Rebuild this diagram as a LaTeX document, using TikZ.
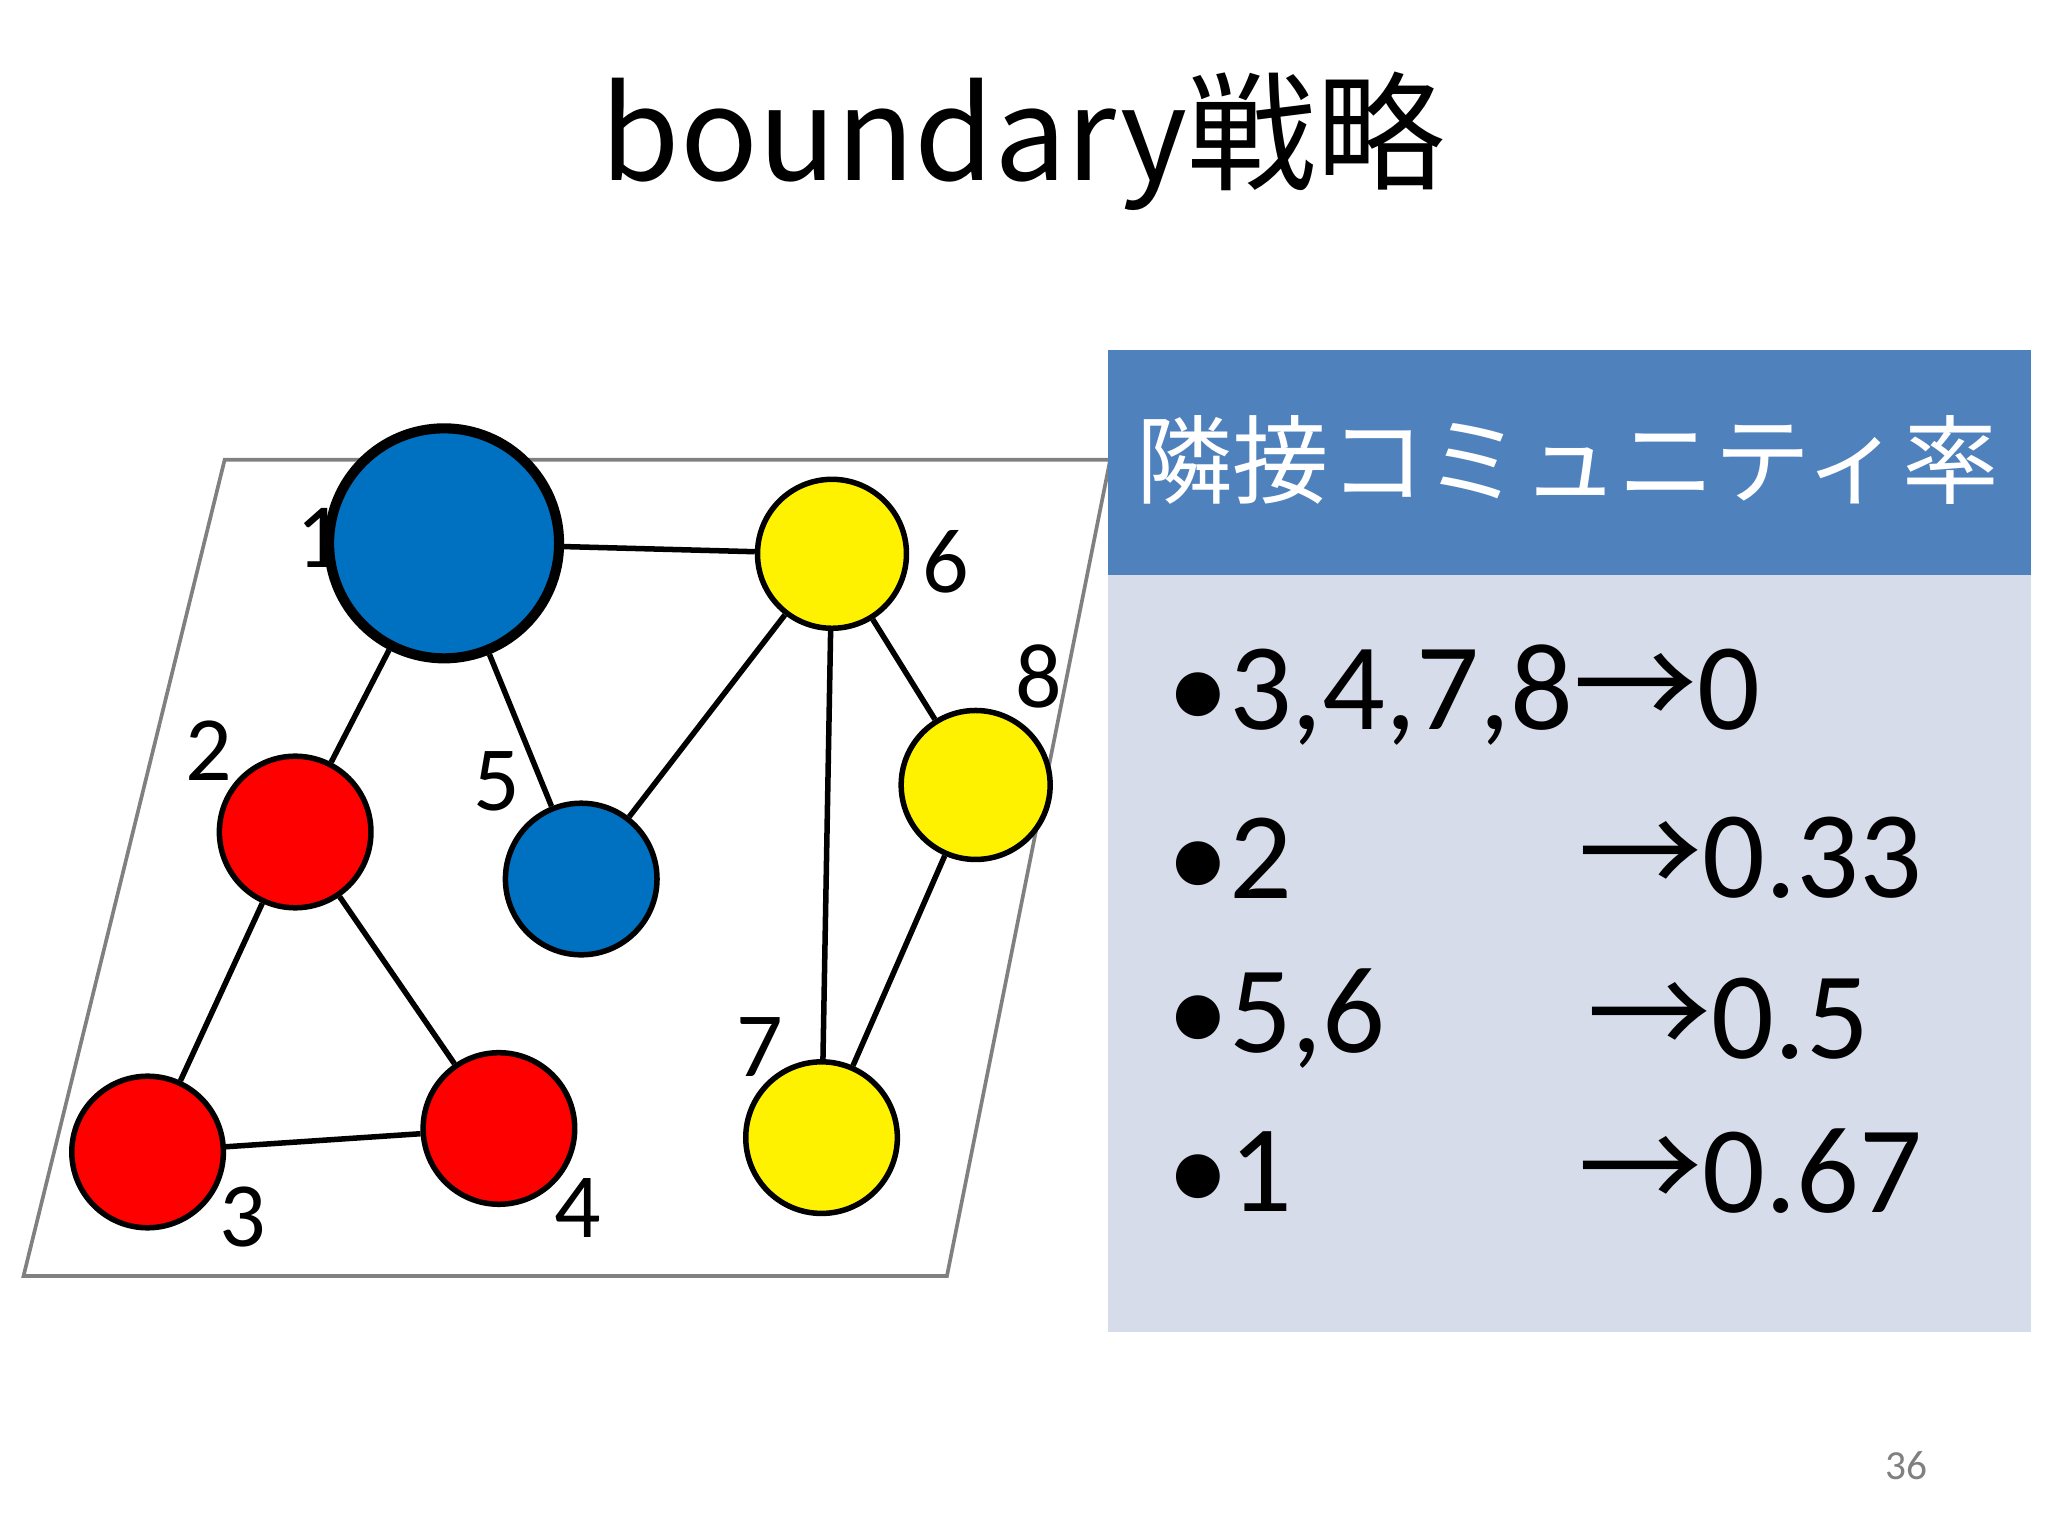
\documentclass[tikz,border=0pt]{standalone}
\usepackage{fontspec}
\setmainfont{Carlito}
\newfontfamily\cjk{Noto Sans CJK JP}
\definecolor{nblue}{HTML}{0070C0}
\definecolor{hdr}{HTML}{4F81BD}
\definecolor{bodyc}{HTML}{D6DCE9}
\begin{document}
\begin{tikzpicture}[x=0.01cm,y=-0.01cm,
 vtx/.style={circle,draw=black,line width=1.2pt,inner sep=0pt},
 lbl/.style={font=\fontsize{20}{20}\selectfont,inner sep=0pt},
 row/.style={font=\fontsize{27}{27}\selectfont,inner sep=0pt,anchor=west}]
\useasboundingbox (0,0) rectangle (1568,1176);
\draw[gray,line width=0.8pt] (172,352) -- (850,352) -- (725,977) -- (18,977) -- cycle;
\node[lbl] (l1) at (245,412) {1};
\node[vtx,fill=nblue,minimum size=1.76cm,line width=2.2pt] (n1) at (340,416) {};
\node[vtx,fill=yellow,minimum size=1.14cm] (n6) at (637,424) {};
\node[vtx,fill=yellow,minimum size=1.14cm] (n8) at (747,601) {};
\node[vtx,fill=red,minimum size=1.16cm] (n2) at (226,637) {};
\node[vtx,fill=nblue,minimum size=1.16cm] (n5) at (445,673) {};
\node[vtx,fill=red,minimum size=1.16cm] (n3) at (113,882) {};
\node[vtx,fill=red,minimum size=1.16cm] (n4) at (382,864) {};
\node[vtx,fill=yellow,minimum size=1.16cm] (n7) at (629,871) {};
\begin{scope}[line width=1.2pt]
\draw (n1)--(n6); \draw (n1)--(n2); \draw (n1)--(n5); \draw (n6)--(n5);
\draw (n6)--(n7); \draw (n6)--(n8); \draw (n8)--(n7); \draw (n2)--(n3);
\draw (n2)--(n4); \draw (n3)--(n4);
\end{scope}
\node[lbl] (l6) at (724,430) {6};
\node[lbl] (l8) at (795,518) {8};
\node[lbl] (l2) at (160,575) {2};
\node[lbl] (l5) at (380,598) {5};
\node[lbl] (l3) at (186,932) {3};
\node[lbl] (l4) at (442,925) {4};
\node[lbl] (l7) at (582,802) {7};
\node[font=\cjk\fontsize{28}{28}\selectfont] (title) at (783,108) {boundary戦略};
\fill[hdr] (848,268) rectangle (1555,440);
\fill[bodyc] (848,440) rectangle (1555,1020);
\node[text=white,font=\cjk\fontsize{21}{21}\selectfont] (head) at (1200,352) {隣接コミュニティ率};
\node[row] (r1) at (893,532) {•3,4,7,8{\cjk →}0};
\node[row] (r2) at (893,657) {•2};
\node[row] (r2b) at (1208,657) {{\cjk →}0.33};
\node[row] (r3) at (893,780) {•5,6};
\node[row] (r3b) at (1215,780) {{\cjk →}0.5};
\node[row] (r4) at (893,897) {•1};
\node[row] (r4b) at (1208,897) {{\cjk →}0.67};
\node[text=gray,font=\fontsize{9}{9}\selectfont] (pg) at (1460,1122) {36};
\end{tikzpicture}
\end{document}
